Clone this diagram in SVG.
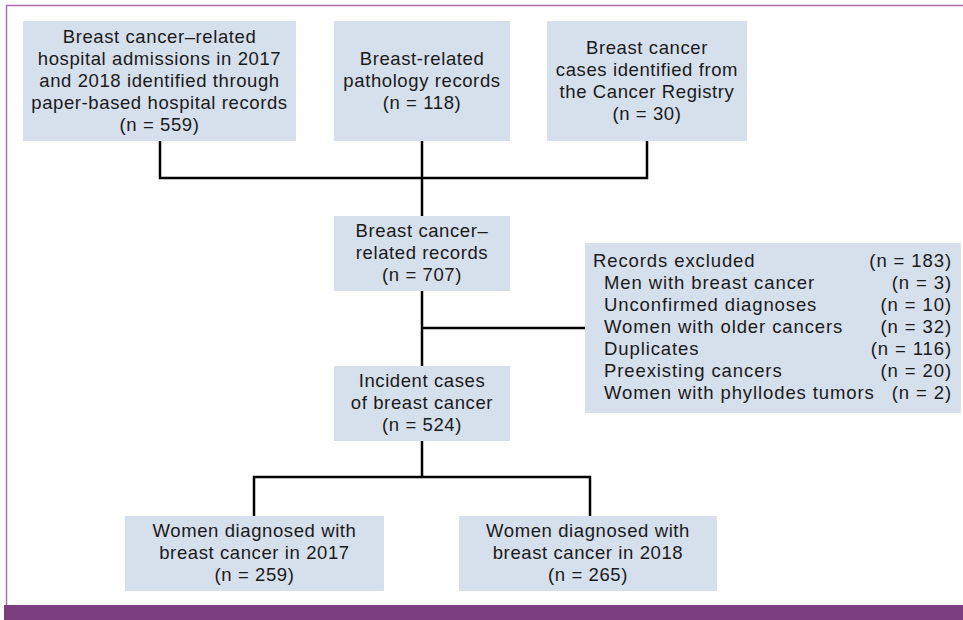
<svg xmlns="http://www.w3.org/2000/svg" width="963" height="620" viewBox="0 0 963 620">
<style>
.box{fill:#d6dfec;}
.t,.l,.r{font-family:"Liberation Sans",Arial,sans-serif;font-size:18.5px;fill:#1a1a1a;letter-spacing:0.6px;}
.t{text-anchor:middle;}
.l{letter-spacing:0.9px;}
.r{text-anchor:end;letter-spacing:0.9px;}
.c{fill:none;stroke:#000;stroke-width:2.5;}
</style>
<rect x="0" y="0" width="963" height="620" fill="#fff"/>
<path d="M6.5 620 V5.5 H963" fill="none" stroke="#a672aa" stroke-width="1.5"/>
<rect x="4" y="605" width="959" height="15" fill="#7d3e80"/>
<g id="connectors">
<path class="c" d="M160 141 V178 H647 V141"/>
<path class="c" d="M422 141 V216"/>
<path class="c" d="M422 291 V366"/>
<path class="c" d="M422 328 H585"/>
<path class="c" d="M422 441 V477"/>
<path class="c" d="M254 516 V477 H590 V516"/>
</g>
<g id="n1">
<rect class="box" x="23" y="21" width="273" height="120"/>
<text class="t" x="159.5" y="43">Breast cancer–related</text>
<text class="t" x="159.5" y="65">hospital admissions in 2017</text>
<text class="t" x="159.5" y="87">and 2018 identified through</text>
<text class="t" x="159.5" y="109">paper-based hospital records</text>
<text class="t" x="159.5" y="131">(n = 559)</text>
</g>
<g id="n2">
<rect class="box" x="334" y="21" width="176" height="120"/>
<text class="t" x="422" y="65">Breast-related</text>
<text class="t" x="422" y="87">pathology records</text>
<text class="t" x="422" y="109">(n = 118)</text>
</g>
<g id="n3">
<rect class="box" x="547" y="21" width="200" height="120"/>
<text class="t" x="647" y="54">Breast cancer</text>
<text class="t" x="647" y="76">cases identified from</text>
<text class="t" x="647" y="98">the Cancer Registry</text>
<text class="t" x="647" y="120">(n = 30)</text>
</g>
<g id="n4">
<rect class="box" x="334" y="216" width="176" height="75"/>
<text class="t" x="422" y="237">Breast cancer–</text>
<text class="t" x="422" y="259">related records</text>
<text class="t" x="422" y="281">(n = 707)</text>
</g>
<g id="n5">
<rect class="box" x="585" y="243" width="376" height="170"/>
<text class="l" x="593" y="267">Records excluded</text>
<text class="r" x="952" y="267">(n = 183)</text>
<text class="l" x="604" y="289">Men with breast cancer</text>
<text class="r" x="952" y="289">(n = 3)</text>
<text class="l" x="604" y="311">Unconfirmed diagnoses</text>
<text class="r" x="952" y="311">(n = 10)</text>
<text class="l" x="604" y="333">Women with older cancers</text>
<text class="r" x="952" y="333">(n = 32)</text>
<text class="l" x="604" y="355">Duplicates</text>
<text class="r" x="952" y="355">(n = 116)</text>
<text class="l" x="604" y="377">Preexisting cancers</text>
<text class="r" x="952" y="377">(n = 20)</text>
<text class="l" x="604" y="399">Women with phyllodes tumors</text>
<text class="r" x="952" y="399">(n = 2)</text>
</g>
<g id="n6">
<rect class="box" x="334" y="366" width="176" height="75"/>
<text class="t" x="422" y="387">Incident cases</text>
<text class="t" x="422" y="409">of breast cancer</text>
<text class="t" x="422" y="431">(n = 524)</text>
</g>
<g id="n7">
<rect class="box" x="125" y="516" width="259" height="75"/>
<text class="t" x="254.5" y="537">Women diagnosed with</text>
<text class="t" x="254.5" y="559">breast cancer in 2017</text>
<text class="t" x="254.5" y="581">(n = 259)</text>
</g>
<g id="n8">
<rect class="box" x="459" y="516" width="258" height="75"/>
<text class="t" x="588" y="537">Women diagnosed with</text>
<text class="t" x="588" y="559">breast cancer in 2018</text>
<text class="t" x="588" y="581">(n = 265)</text>
</g>
</svg>
